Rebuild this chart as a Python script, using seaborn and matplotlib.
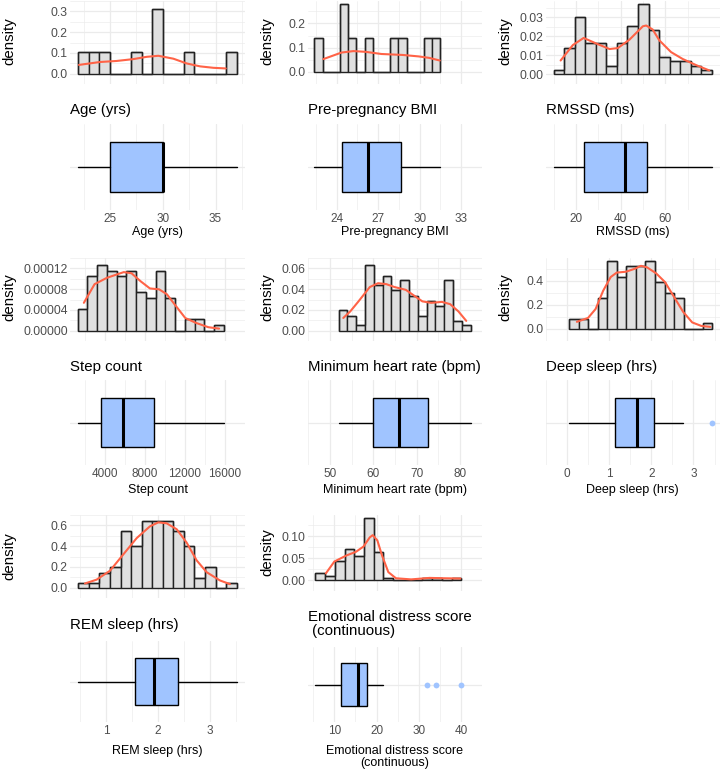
import matplotlib
matplotlib.use("Agg")
import matplotlib.pyplot as plt
import numpy as np
import seaborn as sns

W, H = 721, 772

# ── data ─────────────────────────────────────────────────────────────────────
# histogram densities (15 equal bins spanning *_RANGE), density curve points,
# box stats [whislo, q1, med, q3, whishi] and outliers

AGE_RANGE = [22.0, 37.0]
AGE_HIST = [0.104, 0.104, 0.104, 0, 0, 0.104, 0, 0.313, 0, 0, 0.104, 0, 0, 0, 0.104]
AGE_KDE_X = [22.06, 24.05, 25.63, 27.21, 28.48, 29.58, 31.0, 32.27, 33.53, 34.8, 35.97]
AGE_KDE_Y = [0.042, 0.056, 0.061, 0.070, 0.081, 0.086, 0.072, 0.049, 0.035, 0.028, 0.025]
AGE_BOX = [22.0, 25.0, 30.0, 30.0, 37.0]
AGE_OUT = []
AGE_XTICKS = [25, 30, 35]
AGE_YTICKS = [0.0, 0.1, 0.2, 0.3]

BMI_RANGE = [22.4, 31.5]
BMI_HIST = [0.141, 0, 0, 0.279, 0.141, 0, 0.141, 0, 0, 0.141, 0.141, 0, 0, 0.141, 0.141]
BMI_KDE_X = [23.05, 24.36, 25.22, 26.09, 27.24, 28.78, 29.93, 30.69, 31.46]
BMI_KDE_Y = [0.053, 0.080, 0.086, 0.083, 0.074, 0.070, 0.064, 0.058, 0.047]
BMI_BOX = [22.4, 24.37, 26.3, 28.65, 31.5]
BMI_OUT = []
BMI_XTICKS = [24, 27, 30, 33]
BMI_YTICKS = [0.0, 0.1, 0.2]

RMSSD_RANGE = [10.0, 80.7]
RMSSD_HIST = [0.0024, 0.0138, 0.0300, 0.0162, 0.0162, 0.0045, 0.0162, 0.0251,
              0.0366, 0.0230, 0.0092, 0.0071, 0.0071, 0.0045, 0.0023]
RMSSD_KDE_X = [13.1, 18.6, 23.4, 29.0, 35.0, 38.7, 43.9, 49.9, 51.4, 54.3, 57.3, 62.5, 67.7, 73.7, 79.6]
RMSSD_KDE_Y = [0.0073, 0.0154, 0.0191, 0.0162, 0.0133, 0.0138, 0.0182, 0.0252, 0.0256,
               0.0235, 0.0178, 0.0117, 0.0081, 0.0049, 0.0021]
RMSSD_BOX = [10.0, 23.5, 42.0, 51.7, 80.7]
RMSSD_OUT = []
RMSSD_XTICKS = [20, 40, 60]
RMSSD_YTICKS = [0.00, 0.01, 0.02, 0.03]

STEP_RANGE = [1230, 15900]
STEP_HIST = [4.26e-5, 1.051e-4, 1.256e-4, 1.156e-4, 1.046e-4, 1.156e-4, 7.41e-5, 6.31e-5,
             1.156e-4, 6.31e-5, 0, 2.16e-5, 2.16e-5, 0, 1.1e-5]
STEP_KDE_X = [1848, 2928, 4164, 5862, 6634, 7560, 8487, 9413, 10185, 10957, 12038, 13119, 14354, 15435]
STEP_KDE_Y = [5.36e-5, 8.96e-5, 1.018e-4, 1.128e-4, 1.106e-4, 9.5e-5, 8.13e-5, 7.96e-5,
              7.02e-5, 5.09e-5, 2.43e-5, 1.49e-5, 6.6e-6, 3.9e-6]
STEP_BOX = [1230, 3560, 5800, 8890, 15900]
STEP_OUT = []
STEP_XTICKS = [4000, 8000, 12000, 16000]
STEP_YTICKS = [0.0, 0.00004, 0.00008, 0.00012]

HR_RANGE = [52.0, 82.4]
HR_HIST = [0.0194, 0.0144, 0.0053, 0.0628, 0.0440, 0.0531, 0.0387, 0.0484,
           0.0337, 0.0144, 0.0290, 0.0241, 0.0484, 0.0094, 0.0053]
HR_KDE_X = [53.1, 54.7, 56.6, 59.2, 61.1, 63.0, 64.9, 67.5, 69.4, 71.3, 73.3, 75.8, 77.7, 79.6, 81.4]
HR_KDE_Y = [0.0122, 0.0185, 0.0282, 0.0420, 0.0457, 0.0448, 0.0420, 0.0393, 0.0337,
            0.0282, 0.0268, 0.0277, 0.0255, 0.0185, 0.0094]
HR_BOX = [52.0, 59.9, 65.9, 72.6, 82.4]
HR_OUT = []
HR_XTICKS = [50, 60, 70, 80]
HR_YTICKS = [0.00, 0.02, 0.04, 0.06]

DEEP_RANGE = [0.05, 3.45]
DEEP_HIST = [0.086, 0.086, 0, 0.259, 0.560, 0.432, 0.519, 0.519, 0.560, 0.388, 0.301, 0.259, 0, 0, 0.047]
DEEP_KDE_X = [0.236, 0.501, 0.68, 0.859, 1.038, 1.181, 1.396, 1.611, 1.754, 1.897, 2.112,
              2.327, 2.542, 2.757, 2.971, 3.186, 3.401]
DEEP_KDE_Y = [0.059, 0.091, 0.165, 0.316, 0.430, 0.467, 0.474, 0.499, 0.523, 0.511, 0.462,
              0.388, 0.264, 0.141, 0.054, 0.025, 0.017]
DEEP_BOX = [0.05, 1.14, 1.67, 2.07, 2.75]
DEEP_OUT = [3.45]
DEEP_XTICKS = [0, 1, 2, 3]
DEEP_YTICKS = [0.0, 0.2, 0.4]

REM_RANGE = [0.46, 3.52]
REM_HIST = [0.043, 0.043, 0.143, 0.197, 0.543, 0.397, 0.643, 0.643, 0.643, 0.543, 0.397,
            0.097, 0.197, 0, 0.043]
REM_KDE_X = [0.589, 0.814, 1.072, 1.329, 1.587, 1.845, 2.006, 2.167, 2.360, 2.553, 2.746,
             2.939, 3.197, 3.390]
REM_KDE_Y = [0.040, 0.077, 0.163, 0.320, 0.477, 0.591, 0.629, 0.620, 0.563, 0.434, 0.263,
             0.149, 0.069, 0.034]
REM_BOX = [0.46, 1.56, 1.92, 2.39, 3.52]
REM_OUT = []
REM_XTICKS = [1, 2, 3]
REM_YTICKS = [0.0, 0.2, 0.4, 0.6]

EMO_RANGE = [5.5, 40.1]
EMO_HIST = [0.015, 0.0095, 0.044, 0.0707, 0.0537, 0.1408, 0.0626, 0.0048, 0, 0, 0,
            0.0048, 0.0048, 0, 0.0048]
EMO_KDE_X = [7.98, 10.0, 12.9, 15.1, 16.9, 18.4, 19.1, 20.2, 21.3, 22.8, 24.6, 28.2, 32.6, 35.5, 39.9]
EMO_KDE_Y = [0.015, 0.042, 0.056, 0.064, 0.076, 0.097, 0.102, 0.090, 0.056, 0.018, 0.004,
             0.0014, 0.0048, 0.0041, 0.0034]
EMO_BOX = [5.5, 11.6, 15.6, 17.7, 21.6]
EMO_OUT = [31.9, 34.0, 40.1]
EMO_XTICKS = [10, 20, 30, 40]
EMO_YTICKS = [0.00, 0.05, 0.10]

PANELS = [
    ("Age (yrs)", AGE_RANGE, AGE_HIST, AGE_KDE_X, AGE_KDE_Y, AGE_BOX, AGE_OUT, AGE_XTICKS, AGE_YTICKS, "{:.1f}"),
    ("Pre-pregnancy BMI", BMI_RANGE, BMI_HIST, BMI_KDE_X, BMI_KDE_Y, BMI_BOX, BMI_OUT, BMI_XTICKS, BMI_YTICKS, "{:.1f}"),
    ("RMSSD (ms)", RMSSD_RANGE, RMSSD_HIST, RMSSD_KDE_X, RMSSD_KDE_Y, RMSSD_BOX, RMSSD_OUT, RMSSD_XTICKS, RMSSD_YTICKS, "{:.2f}"),
    ("Step count", STEP_RANGE, STEP_HIST, STEP_KDE_X, STEP_KDE_Y, STEP_BOX, STEP_OUT, STEP_XTICKS, STEP_YTICKS, "{:.5f}"),
    ("Minimum heart rate (bpm)", HR_RANGE, HR_HIST, HR_KDE_X, HR_KDE_Y, HR_BOX, HR_OUT, HR_XTICKS, HR_YTICKS, "{:.2f}"),
    ("Deep sleep (hrs)", DEEP_RANGE, DEEP_HIST, DEEP_KDE_X, DEEP_KDE_Y, DEEP_BOX, DEEP_OUT, DEEP_XTICKS, DEEP_YTICKS, "{:.1f}"),
    ("REM sleep (hrs)", REM_RANGE, REM_HIST, REM_KDE_X, REM_KDE_Y, REM_BOX, REM_OUT, REM_XTICKS, REM_YTICKS, "{:.1f}"),
    ("Emotional distress score\n (continuous)", EMO_RANGE, EMO_HIST, EMO_KDE_X, EMO_KDE_Y, EMO_BOX, EMO_OUT,
     EMO_XTICKS, EMO_YTICKS, "{:.2f}"),
]

# ── layout (pixels) ──────────────────────────────────────────────────────────
COL_X = [(70.4, 244.6), (308.1, 481.9), (545.8, 719.6)]
DLAB_X = [9, 267, 505]
# per row: hist top/bottom, title y, density-label y, box top/bottom, box-label y
ROWS = [
    dict(hist=(1, 84), title=110, dlab=41, box=(124, 210), blab=232),
    dict(hist=(258, 341), title=367, dlab=297, box=(380, 465), blab=490),
    dict(hist=(515, 598), title=625, dlab=556, box=(641, 722), blab=751),
]
EMO_ROW = dict(hist=(515, 591), title=624, dlab=552, box=(647, 722), blab=757)

sns.set_theme(style="white")
plt.rcParams["font.family"] = ["Liberation Sans", "DejaVu Sans"]

GRID = "#EBEBEB"
TICK_COL = "#4D4D4D"
BAR_FILL = "#E0E0E0"
BAR_EDGE = "#222222"
KDE_COL = "#FF6347"
BOX_FILL = "#A0C4FF"


def rect(left, top, right, bottom):
    return [left / W, 1 - bottom / H, (right - left) / W, (bottom - top) / H]


def midpoints(ticks):
    step = ticks[1] - ticks[0]
    ext = [ticks[0] - step] + list(ticks) + [ticks[-1] + step]
    return [(a + b) / 2 for a, b in zip(ext[:-1], ext[1:])]


def base_style(ax, xlim, xticks):
    sns.despine(ax=ax, left=True, bottom=True)
    ax.set_xlim(*xlim)
    ax.set_xticks(xticks)
    ax.set_xticks(midpoints(xticks), minor=True)
    ax.grid(True, which="major", color=GRID, linewidth=0.9)
    ax.grid(True, which="minor", color=GRID, linewidth=0.45)
    ax.set_axisbelow(True)
    ax.tick_params(which="both", length=0)
    ax.set_xlabel("")
    ax.set_ylabel("")


fig = plt.figure(figsize=(W / 100, H / 100), dpi=100)

for i, (label, rng, hist, kx, ky, box, out, xticks, yticks, yfmt) in enumerate(PANELS):
    col = i % 3
    lay = EMO_ROW if i == 7 else ROWS[i // 3]
    x0, x1 = COL_X[col]
    lo, hi = rng
    span = hi - lo
    xlim = (lo - 0.05 * span, hi + 0.05 * span)

    # histogram + density
    ax = fig.add_axes(rect(x0, lay["hist"][0], x1, lay["hist"][1]))
    edges = np.linspace(lo, hi, len(hist) + 1)
    ax.bar(edges[:-1], hist, width=np.diff(edges), align="edge",
           color=BAR_FILL, edgecolor=BAR_EDGE, linewidth=1.0)
    # outline of the step profile, so empty bins leave their line on the baseline
    ax.stairs(hist, edges, baseline=0, fill=False, color=BAR_EDGE, linewidth=1.0)
    sns.lineplot(x=kx, y=ky, ax=ax, color=KDE_COL, linewidth=1.5)
    ymax = max(max(hist), max(ky))
    ax.set_ylim(-0.05 * ymax, 1.05 * ymax)
    base_style(ax, xlim, xticks)
    ax.tick_params(labelbottom=False)
    ax.set_yticks(yticks)
    ax.set_yticks(midpoints(yticks), minor=True)
    ax.set_yticklabels([yfmt.format(t) for t in yticks], fontsize=8.8, color=TICK_COL)
    ax.tick_params(axis="y", pad=1.8)

    fig.text(DLAB_X[col] / W, 1 - lay["dlab"] / H, "density", rotation=90,
             ha="center", va="center", fontsize=10.8, color="black")
    fig.text(x0 / W, 1 - lay["title"] / H, label, ha="left", va="center",
             fontsize=10.8, color="black", linespacing=1.0)

    # boxplot
    bx = fig.add_axes(rect(x0, lay["box"][0], x1, lay["box"][1]))
    stats = [dict(whislo=box[0], q1=box[1], med=box[2], q3=box[3], whishi=box[4], fliers=out)]
    bx.bxp(stats, positions=[1], widths=0.7, orientation="horizontal", patch_artist=True,
           showcaps=False, manage_ticks=False,
           boxprops=dict(facecolor=BOX_FILL, edgecolor="black", linewidth=1.0),
           medianprops=dict(color="black", linewidth=2.2, solid_capstyle="butt"),
           whiskerprops=dict(color="black", linewidth=1.0),
           flierprops=dict(marker="o", markerfacecolor=BOX_FILL, markeredgecolor="none", markersize=4.2))
    bx.set_ylim(0.4, 1.6)
    base_style(bx, xlim, xticks)
    bx.set_yticks([1])
    bx.set_yticklabels([])
    bx.set_xticklabels([str(t) for t in xticks], fontsize=8.5, color=TICK_COL)
    bx.tick_params(axis="x", pad=2.5)
    fig.text((x0 + x1) / 2 / W, 1 - lay["blab"] / H, label.replace("\n ", "\n"),
             ha="center", va="center", fontsize=9, color="black", linespacing=1.05)

fig.savefig("out.png", dpi=100)
